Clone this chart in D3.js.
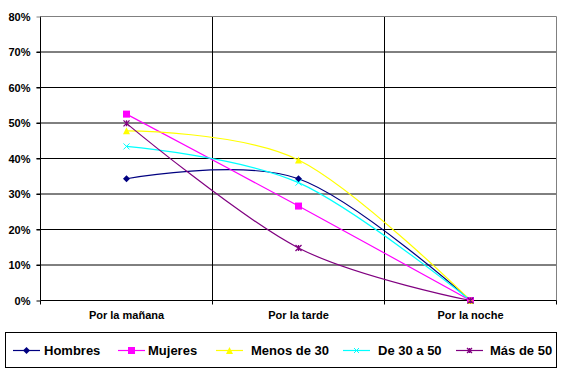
<!DOCTYPE html>
<html><head><meta charset="utf-8">
<script src="https://cdn.jsdelivr.net/npm/d3@7"></script>
<style>body{margin:0;background:#fff}svg{display:block}text{font-family:Arial,"Liberation Sans",sans-serif;font-weight:bold}</style>
</head><body><svg id="c" width="562" height="372"></svg>
<script>
const categories = ["Por la mañana","Por la tarde","Por la noche"];
const seriesNames = ["Hombres","Mujeres","Menos de 30","De 30 a 50","Más de 50"];
const hombres = [0.343, 0.343, 0];
const mujeres = [0.525, 0.266, 0];
const menos30 = [0.478, 0.396, 0];
const de30a50 = [0.434, 0.332, 0];
const mas50 = [0.499, 0.148, 0];
const yTicks = [0,0.1,0.2,0.3,0.4,0.5,0.6,0.7,0.8];
const colors = ["#000080","#FF00FF","#FFFF00","#00FFFF","#800080"];
const symbols = ["diamond","square","triangle","x","star"];
const seriesValues = [hombres, mujeres, menos30, de30a50, mas50];

const svg = d3.select("#c");
const L=40.5, R=556.5, T=16.5, B=300.5;
const x = d3.scaleBand().domain(categories).range([L,R]).padding(0);
const y = d3.scaleLinear().domain([0,0.8]).range([B,T]);

// gridlines
svg.append("g").selectAll("line").data(yTicks.filter(d=>d>0 && d<0.8)).join("line")
  .attr("x1",L-4).attr("x2",R).attr("y1",d=>y(d)).attr("y2",d=>y(d)).attr("stroke","#000").attr("stroke-width",1);
svg.append("g").selectAll("line").data(categories.slice(1)).join("line")
  .attr("x1",d=>x(d)).attr("x2",d=>x(d)).attr("y1",T).attr("y2",B+4).attr("stroke","#000");
// border top/right gray
svg.append("path").attr("d",`M${L},${T}H${R}V${B}`).attr("fill","none").attr("stroke","#808080");
// axes
const yAxis = d3.axisLeft(y).tickValues(yTicks).tickFormat(d3.format(".0%")).tickSize(4).tickPadding(6);
const ya = svg.append("g").attr("transform",`translate(${L},0)`).call(yAxis);
ya.select(".domain").attr("d",`M0,${T}V${B}`).attr("stroke","#000");
ya.selectAll("text").attr("font-size",11).attr("fill","#000").style("font-weight","bold").style("font-family","Arial, 'Liberation Sans', sans-serif");
ya.selectAll(".tick line").attr("stroke","#000");
ya.select(".tick:last-of-type line").attr("stroke","#808080");

const xa = svg.append("g").attr("transform",`translate(0,${B})`).call(d3.axisBottom(x).tickSize(0).tickPadding(11));
xa.select(".domain").attr("d",`M${L},0H${R}`).attr("stroke","#000");
xa.selectAll("text").attr("font-size",11).attr("fill","#000").style("font-weight","bold").style("font-family","Arial, 'Liberation Sans', sans-serif");
// x boundary ticks
svg.append("g").selectAll("line").data([L, R]).join("line")
  .attr("x1",d=>d).attr("x2",d=>d).attr("y1",B).attr("y2",B+4).attr("stroke","#000");

function marker(g, type, color, s){
  if(type==="diamond") g.append("path").attr("d",`M0,${-s}L${s},0L0,${s}L${-s},0Z`).attr("fill",color);
  else if(type==="square") g.append("rect").attr("x",-s).attr("y",-s).attr("width",2*s).attr("height",2*s).attr("fill",color);
  else if(type==="triangle") g.append("path").attr("d",`M0,${-s}L${s},${s}L${-s},${s}Z`).attr("fill",color);
  else if(type==="x") g.append("path").attr("d",`M${-s},${-s}L${s},${s}M${-s},${s}L${s},${-s}`).attr("stroke",color).attr("stroke-width",1);
  else if(type==="star") g.append("path").attr("d",`M${-s},${-s}L${s},${s}M${-s},${s}L${s},${-s}M0,${-s}V${s}`).attr("stroke",color).attr("stroke-width",1.3);
}

const line = d3.line().x((d,i)=>x(categories[i])+x.bandwidth()/2).y(d=>y(d)).curve(d3.curveCatmullRom.alpha(0));
seriesValues.forEach((vals,si)=>{
  svg.append("path").datum(vals).attr("d",line).attr("fill","none").attr("stroke",colors[si]).attr("stroke-width",1.2);
});
seriesValues.forEach((vals,si)=>{
  vals.forEach((v,i)=>{
    const g = svg.append("g").attr("transform",`translate(${x(categories[i])+x.bandwidth()/2},${y(v)})`);
    marker(g, symbols[si], colors[si], si===4||si===3?3:3.5);
  });
});

// legend
const lg = svg.append("g");
lg.append("rect").attr("x",5.5).attr("y",332.5).attr("width",551).attr("height",35).attr("fill","none").attr("stroke","#000");
const lx = [13,118,216,343,456];
const tx = [44,148,251,378,490];
seriesNames.forEach((n,i)=>{
  lg.append("line").attr("x1",lx[i]).attr("x2",lx[i]+27).attr("y1",350.5).attr("y2",350.5).attr("stroke",colors[i]).attr("stroke-width",1.2);
  const g = lg.append("g").attr("transform",`translate(${lx[i]+13.5},350.5)`);
  marker(g, symbols[i], colors[i], i>=3?2.5:3.5);
  lg.append("text").attr("x",tx[i]).attr("y",355).attr("font-size",13).text(n);
});
</script></body></html>
